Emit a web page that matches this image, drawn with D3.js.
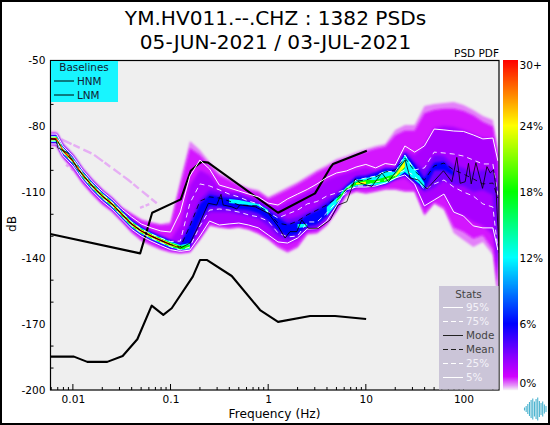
<!DOCTYPE html>
<html><head><meta charset="utf-8">
<script src="https://cdn.jsdelivr.net/npm/d3@7"></script>
<style>html,body{margin:0;padding:0;background:#fff}svg{display:block}text{font-family:"DejaVu Sans",sans-serif}</style>
</head><body><div id="chart"></div>
<script>
const titleLines=["YM.HV011.--.CHZ : 1382 PSDs","05-JUN-2021 / 03-JUL-2021"];
const xTickLabels=[0.01,0.1,1,10,100];
const yTickLabels=[-50,-80,-110,-140,-170,-200];
const cbarTicks=[[30,"30+"],[24,"24%"],[18,"18%"],[12,"12%"],[6,"6%"],[0,"0%"]];
const pdfStops=[0,0.35,1.2,3,6,12,18,24,30];
const pdfColors=["#f4ecf6","#e79cf8","#d000ff","#8a00ff","#0000ff","#00ffff","#00ff00","#ffff00","#ff0000"];

const freqHz=[0.0059,0.0068,0.0079,0.01,0.0126,0.0158,0.02,0.0251,0.0316,0.0398,0.0501,0.0631,0.0794,0.1,0.126,0.158,0.2,0.251,0.316,0.398,0.501,0.631,0.794,1,1.26,1.58,2,2.51,3.16,3.98,5.01,6.31,7.94,10,12.6,15.8,20,25.1,31.6,39.8,50.1,63.1,79.4,100,126,158,200,225];

const p95=[-83.5,-83.5,-88.8,-93.5,-99.9,-104.9,-109.5,-113.1,-117.6,-121.2,-124.4,-126.2,-127.6,-128.1,-119,-102.6,-95.3,-99.4,-106.7,-108,-109.4,-110.8,-112.1,-114.9,-115.8,-113,-110.8,-108.7,-106.2,-103.3,-101.2,-100.3,-98.5,-97.3,-98.9,-96.9,-97.6,-88.9,-91.7,-88.9,-81.2,-81.6,-82.1,-82.3,-83.9,-85.7,-85.3,-95.7];
const p75=[-84.8,-84.8,-89.8,-94.8,-101.2,-106.2,-110.8,-114.4,-119,-123.5,-126.7,-129,-130.8,-132.4,-132.2,-114.9,-106.2,-107.1,-108.9,-110.8,-112.1,-114,-115.3,-119,-121.7,-119.9,-118.1,-115.3,-114.2,-111.7,-110.3,-108.5,-104.4,-103.5,-102.6,-100.3,-100.8,-93,-99.8,-98.9,-91.7,-92.1,-92.6,-93.5,-95.3,-97.1,-97.1,-111.2];
const mean=[-85.7,-85.7,-91,-95.7,-102.1,-107.1,-111.7,-115.3,-119.9,-124.4,-127.6,-129.9,-131.9,-133.8,-134.9,-125.3,-114,-112.1,-112.6,-114,-115.8,-116,-116.2,-119,-124,-124.9,-123.1,-120.3,-118.1,-115.8,-112.6,-108.9,-104.9,-104.4,-103,-100.8,-99.8,-94.4,-100.3,-104.4,-98,-96.7,-99.8,-101.7,-103.9,-106.2,-105.8,-112.6];
const p25=[-86.6,-86.6,-91.9,-96.7,-103,-108,-112.6,-116.2,-120.8,-125.3,-128.5,-130.8,-132.8,-134.7,-136.3,-134.9,-125.3,-118.1,-117.6,-118.1,-119,-120.3,-121.2,-123.1,-128.5,-130.3,-129.9,-123.5,-123.5,-119.4,-114.4,-110.3,-107.1,-107.1,-105.3,-104.4,-102.1,-99.8,-102.6,-108.9,-106.2,-104.4,-107.6,-109.9,-111.7,-115.3,-116.7,-136.3];
const p5=[-88,-88,-93.3,-98,-104.4,-109.4,-114,-117.6,-122.2,-126.7,-129.9,-132.2,-134.2,-136.1,-136.9,-136.3,-129.9,-123.1,-124.9,-124.4,-124,-124.9,-126.2,-129.4,-132.6,-133.1,-130.8,-126.7,-126.5,-123.1,-116.2,-108.9,-107.6,-107.6,-107.1,-105.8,-103.5,-102.1,-106.2,-116.2,-113.5,-110.8,-119,-120.8,-125.3,-126.2,-126.2,-136.3];

const modeLogHz=[-2.225,-2.173,-2.153,-2.1,-2.05,-2,-1.961,-1.9,-1.8,-1.7,-1.6,-1.5,-1.4,-1.3,-1.2,-1.1,-1,-.9,-.8,-.718,-.613,-.527,-.483,-.461,-.373,-.322,-.288,-.134,.002,.105,.173,.224,.293,.344,.412,.514,.634,.716,.805,.89,.942,1.061,1.164,1.232,1.334,1.403,1.454,1.539,1.625,1.693,1.795,1.881,1.932,1.966,2.017,2.051,2.079,2.127,2.195,2.24,2.274,2.307,2.332,2.352,2.366];
const modeDb=[-85.7,-86,-89.8,-91,-92.1,-95.7,-98.9,-102.1,-107.1,-111.7,-115.3,-119.9,-124.4,-127.6,-129.9,-131.9,-133.8,-135.4,-133.1,-125.7,-115,-115.8,-110.9,-115.8,-116.6,-117.6,-115.8,-116.6,-119.6,-125.7,-130.8,-127.9,-127.9,-122.6,-126.4,-126.4,-122.6,-115.8,-114.3,-103.9,-105.8,-107.4,-101.2,-105.2,-99.1,-95.3,-103.5,-104.4,-108.5,-105.2,-100.2,-105.2,-94.1,-105.9,-105.2,-96.8,-106.2,-96.5,-108.2,-98.3,-101.2,-99.8,-107.4,-125.7,-137.6];

const hnmLogHz=[-2.231,-1.311,-1.188,-.895,-.793,-.704,-.68,-.615,.101,.48,.634,.665,1.01];
const hnmDb=[-129,-137.8,-119.3,-113.2,-100.2,-96.8,-96.1,-96.5,-119.3,-110.5,-98.9,-97.1,-91.1];
const lnmLogHz=[-2.231,-1.989,-1.852,-1.648,-1.49,-1.34,-1.193,-1.074,-.988,-.772,-.698,-.629,-.373,-.083,.101,.429,.685,1.003];
const lnmDb=[-184.8,-184.8,-187.2,-187.2,-184.5,-176.9,-161.6,-165.8,-162.8,-148.4,-140.8,-140.8,-148.1,-163.6,-169,-166.3,-166.3,-167.7];

const ghostHz=[0.00767,0.0162,0.037,0.0723];
const ghostDb=[-85.9,-92.7,-104.4,-115];
const ghost2Hz=[0.0487,0.0616];
const ghost2Db=[-117.1,-115.3];
const ghost3Hz=[0.0085,0.0105];
const ghost3Db=[-97.5,-100.5];

const n=null;
const envHi=[-82.4,-82.4,-87.7,-92.4,-98.8,-103.8,-108.4,-112,-116.6,-119.4,-122.2,-123.5,-124.4,-123.5,-104.4,-86.6,-90.7,-96.2,-101.2,-103.5,-106.2,-108,-108.9,-112.1,-109.9,-107.6,-105.3,-102.6,-99.8,-97.6,-94.8,-93.5,-91.7,-90.3,-88.9,-88,-81.6,-79.4,-79.4,-70.7,-69.8,-69.3,-68.9,-70.3,-72.5,-75.3,-77.1,-90.7];
const envLo=[-88.9,-88.9,-94.4,-99.8,-106.2,-111.2,-115.8,-119,-123.5,-128.5,-132.2,-134.4,-136.3,-137.6,-138.1,-137.6,-131.7,-125.3,-126.2,-126.7,-126.2,-127.2,-129,-131.7,-135.4,-137.6,-135.4,-129.4,-129,-125.3,-119,-111.7,-109.9,-110.8,-109.9,-108.9,-108.9,-109.9,-109.9,-120.8,-115.3,-118.1,-128.5,-131.7,-134.9,-132.6,-138.5,-156.8];
const magentaHi=[-83.3,-83.3,-88.6,-93.3,-99.7,-104.7,-109.3,-112.9,-117.3,-120,-122.8,-124.1,-125,-124.5,-107,-90,-93,-98,-102.5,-104.5,-107,-109,-110,-113,-111,-108.8,-106.5,-103.8,-101,-98.8,-96,-94.7,-93,-91.5,-90.2,-89.3,-84,-82,-82,-74,-72.5,-72,-72,-73,-75,-78,-80,-93];
const magentaLo=[-88.3,-88.3,-93.8,-99.2,-105.6,-110.6,-115.2,-118.4,-122.9,-127.9,-131.6,-133.8,-135.7,-137,-137.5,-137,-131,-124.8,-125.7,-126.2,-125.7,-126.7,-128.5,-131,-134.6,-136.8,-134.6,-128.6,-128.2,-124.6,-118.4,-111.2,-109.4,-110.2,-109.4,-108.4,-108.4,-109.3,-109.3,-120,-114.6,-117,-126,-128,-131,-129.5,-136,-156];
const violetHi=[-83.5,-83.5,-88.8,-93.5,-99.9,-104.9,-109.5,-113.1,-117.7,-122.2,-125.4,-127.7,-129.7,-131.6,-124.9,-106.7,-99.8,-102.1,-107.6,-108.9,-109.9,-111.7,-112.6,-115.8,-116.7,-114.4,-112.1,-109.9,-107.6,-104.4,-102.6,-101.2,-99.8,-98.9,-99.8,-98,-98.5,-90.7,-93,-88.5,-80.7,-79.8,-80.3,-81.6,-83.5,-85.3,-85.3,-97.6];
const violetLo=[-87.9,-87.9,-93.2,-97.9,-104.3,-109.3,-113.9,-117.5,-122.1,-126.6,-129.8,-132.1,-134.1,-136,-136.7,-136.3,-130.3,-123.5,-124.9,-125.3,-124.9,-125.3,-126.7,-129.9,-132.6,-133.5,-131.7,-127.6,-127.2,-123.5,-117.1,-109.9,-108,-108,-107.6,-106.7,-104.4,-103.5,-107.1,-117.1,-113.5,-111.2,-119,-120.8,-123.5,-125.3,-129.4,-145.4];
const indigoHi=[-83.75,-83.75,-89.05,-93.75,-100.15,-105.15,-109.75,-113.35,-117.95,-122.45,-125.65,-127.95,-129.95,-131.85,-133.1,-123.5,-113.5,-108.9,-109.9,-110.8,-110.8,-112.6,-114,-116.7,-119.9,-122.2,-121.2,-119,-116.7,-113,-110.3,-106.7,-102.6,-102.1,-100.8,-98.9,-98.9,-91.7,-96.2,-99.8,-93,-93.5,-97.6,-98.9,-100.8,-99.8,-99.8,-106.7];
const indigoLo=[-87.65,-87.65,-92.95,-97.65,-104.05,-109.05,-113.65,-117.25,-121.85,-126.35,-129.55,-131.85,-133.85,-135.75,-136.3,-135.4,-125.3,-119,-119,-119,-119.9,-120.8,-122.2,-125.3,-129.9,-131.7,-130.8,-126.7,-126.2,-122.2,-116.2,-109.4,-107.6,-107.1,-107.1,-106.2,-103.9,-102.1,-105.3,-109.9,-108,-104.4,-106.7,-107.1,-109.9,-108.9,-111.2,-150];
const blueHi=[-84,-84,-89.3,-94,-100.4,-105.4,-110,-113.6,-118.2,-122.7,-125.9,-128.2,-130.2,-132.1,-133.5,-125.3,-115.2,-111.1,-112,-112.5,-112.9,-114.3,-115.7,-118.4,-121.6,-124.3,-123.4,-120.2,-118.4,-115.2,-111.7,-107.1,-103,-102.6,-101.2,-99.4,-99.4,-92.1,-97.1,-103.5,-96.5,-96,-100.8,n,n,n,n,-113.5];
const blueLo=[-87.4,-87.4,-92.7,-97.4,-103.8,-108.8,-113.4,-117,-121.6,-126.1,-129.3,-131.6,-133.6,-135.5,-136.3,-134.4,-122.7,-116.3,-116.3,-117.3,-117.7,-118.2,-119.5,-122.7,-127.3,-130,-129.1,-125.4,-124.5,-120.9,-115.8,-109.4,-107.6,-107.1,-107.1,-106.2,-103.9,-102.1,-105.3,-108.9,-100,-100,-102.6,n,n,n,n,-129.4];
const cyanHi=[-84.35,-84.35,-89.65,-94.35,-100.75,-105.75,-110.35,-113.95,-118.55,-123.05,-126.25,-128.55,-130.55,-132.45,-134,-133.1,n,n,n,-113,-113.5,-114.4,-115.3,-118.1,n,n,-124.4,-124.4,n,-116.7,-112.6,-107.6,-104.4,-103.5,-102.6,-100.3,-100.8,-93,-98.9,-105.8,n,n,n,n,n,n,n,n];
const cyanLo=[-87.05,-87.05,-92.35,-97.05,-103.45,-108.45,-113.05,-116.65,-121.25,-125.75,-128.95,-131.25,-133.25,-135.15,-136.3,-135.9,n,n,n,-114.9,-115.3,-115.8,-116.2,-119.4,n,n,-126.2,-125.7,n,-120.8,-115.3,-108.9,-107.1,-106.7,-106.7,-106.2,-103.9,-100.8,-104.4,-108,n,n,n,n,n,n,n,n];
const greenHi=[-84.7,-84.7,-90,-94.7,-101.1,-106.1,-110.7,-114.3,-118.9,-123.4,-126.6,-128.9,-130.9,-132.8,-134.4,-134,n,n,n,n,n,n,n,n,n,n,n,n,n,n,-113.5,-108,-105.3,-104.4,-104.4,-103,-101.7,-95.5,n,n,n,n,n,n,n,n,n,n];
const greenLo=[-86.7,-86.7,-92,-96.7,-103.1,-108.1,-112.7,-116.3,-120.9,-125.4,-128.6,-130.9,-132.9,-134.8,-135.9,-135.4,n,n,n,n,n,n,n,n,n,n,n,n,n,n,-114.9,-108.7,-106.7,-106.2,-105.8,-105.2,-103.5,-99,n,n,n,n,n,n,n,n,n,n];
const yellowHi=[-85.05,-85.05,-90.35,-95.05,-101.45,-106.45,-111.05,-114.65,-119.25,-123.75,-126.95,-129.25,-131.25,-133.15,-134.8,n,n,n,n,n,n,n,n,n,n,n,n,n,n,n,n,n,-105.8,-105.1,n,n,-102.1,-95.7,n,n,n,n,n,n,n,n,n,n];
const yellowLo=[-86.35,-86.35,-91.65,-96.35,-102.75,-107.75,-112.35,-115.95,-120.55,-125.05,-128.25,-130.55,-132.55,-134.45,-135.5,n,n,n,n,n,n,n,n,n,n,n,n,n,n,n,n,n,-106.5,-106.2,n,n,-103,-98.5,n,n,n,n,n,n,n,n,n,n];
const redHi=[-85.32,-85.32,-90.62,-95.32,-101.72,-106.72,-111.32,-114.92,-119.52,-124.02,-127.22,-129.52,-131.52,-133.42];
const redLo=[-86.08,-86.08,-91.38,-96.08,-102.48,-107.48,-112.08,-115.68,-120.28,-124.78,-127.98,-130.28,-132.28,-134.18];

const baselineLabels=["HNM","LNM"];
const statLabels=["95%","75%","Mode","Mean","25%","5%"];
const logoHeights=[3,6,10,14,18,21,15,20,23,16,12,15,9,6];

const W=550,H=425,L=50.5,R=499,T=60.5,B=390;
const svg=d3.select("#chart").append("svg").attr("width",W).attr("height",H);
svg.append("rect").attr("width",W).attr("height",H).attr("fill","#fff");
const x=d3.scaleLog().domain([0.0059,231]).range([L,R]);
const y=d3.scaleLinear().domain([-50,-200]).range([T,B]);
const hz=v=>Math.pow(10,v);
const defs=svg.append("defs");
defs.append("clipPath").attr("id","plot").append("rect").attr("x",L).attr("y",T).attr("width",R-L).attr("height",B-T);
[["b3",1.6],["b2",1.1],["b1",0.5]].forEach(([id,s])=>{
  defs.append("filter").attr("id",id).attr("x","-5%").attr("y","-5%").attr("width","110%").attr("height","110%")
   .append("feGaussianBlur").attr("stdDeviation",s);
});

titleLines.forEach((t,i)=>svg.append("text").attr("x",275.5).attr("y",25+i*24).attr("text-anchor","middle").attr("font-size",20.1).attr("fill","#000").text(t));
svg.append("text").attr("x",499).attr("y",57).attr("text-anchor","end").attr("font-size",10.5).text("PSD PDF");

svg.append("rect").attr("x",L).attr("y",T).attr("width",R-L).attr("height",B-T).attr("fill","#efefef");

const gPlot=svg.append("g").attr("clip-path","url(#plot)");
const band=(hi,lo,color,filter)=>{
  const pts=freqHz.map((f,i)=>({f,hi:hi[i],lo:lo[i]}));
  const a=d3.area().defined(d=>d.hi!=null&&d.lo!=null).x(d=>x(d.f)).y0(d=>y(d.lo)).y1(d=>y(d.hi));
  const p=gPlot.append("path").attr("d",a(pts)).attr("fill",color);
  if(filter)p.attr("filter",`url(#${filter})`);
};
const pdfColor=d3.scaleLinear().domain(pdfStops).range(pdfColors).clamp(true);
const curve=(xs,ys,stroke,width,dash)=>{
  const line=d3.line().x(d=>x(d[0])).y(d=>y(d[1]));
  const p=gPlot.append("path").attr("d",line(xs.map((v,i)=>[v,ys[i]]))).attr("fill","none")
    .attr("stroke",stroke).attr("stroke-width",width).attr("stroke-linejoin","round");
  if(dash)p.attr("stroke-dasharray",dash);
  return p;
};

curve(ghostHz,ghostDb,"#e6aef4",2.4,"11 2 7 4 9 3");
curve(ghost2Hz,ghost2Db,"#e6aef4",2.4,"4 2");
curve(ghost3Hz,ghost3Db,"#e6aef4",2.4,"3 3");

band(envHi,envLo,pdfColor(0.5),"b2");
band(magentaHi,magentaLo,pdfColor(1.1),"b2");
band(violetHi,violetLo,pdfColor(2.2),"b3");
band(indigoHi,indigoLo,pdfColor(3.6),"b3");
band(blueHi,blueLo,pdfColor(6),"b2");
band(cyanHi,cyanLo,pdfColor(12),"b1");
band(greenHi,greenLo,pdfColor(18),"b1");
band(yellowHi,yellowLo,pdfColor(24));
band(redHi,redLo,pdfColor(30));

curve(hnmLogHz.map(hz),hnmDb,"#000",2.1);
curve(lnmLogHz.map(hz),lnmDb,"#000",2.1);

curve(freqHz,p95,"#fff",1);
curve(freqHz,p5,"#fff",1);
curve(freqHz,p75,"#fff",0.9,"5 4");
curve(freqHz,p25,"#fff",0.9,"5 4");
curve(modeLogHz.map(hz),modeDb,"#000",0.8);
curve(freqHz,mean,"#000",0.8,"5 4");

svg.append("rect").attr("x",L).attr("y",T).attr("width",R-L).attr("height",B-T).attr("fill","none").attr("stroke","#000").attr("stroke-width",1.2);

const yAxis=d3.axisLeft(y).tickValues(yTickLabels).tickSize(0).tickPadding(5).tickFormat(d=>d);
const gy=svg.append("g").attr("transform",`translate(${L},0)`).call(yAxis);
gy.select(".domain").remove();
gy.selectAll("text").attr("font-size",10.6).attr("fill","#000").style("font-family",'"DejaVu Sans",sans-serif');
const yMinor=d3.range(-190,-50,10).filter(v=>!yTickLabels.includes(v));
svg.append("g").selectAll("line").data(yMinor).join("line").attr("x1",L).attr("x2",L+3).attr("y1",y).attr("y2",y).attr("stroke","#000").attr("stroke-width",1);

const xMinor=[];
[0.001,0.01,0.1,1,10,100].forEach(d=>d3.range(2,10).forEach(m=>{const v=d*m;if(v>0.0059&&v<231)xMinor.push(v);}));
const xAxis=d3.axisBottom(x).tickValues(xTickLabels).tickSize(0).tickPadding(5).tickFormat(d=>d);
const gx=svg.append("g").attr("transform",`translate(0,${B})`).call(xAxis);
gx.select(".domain").remove();
gx.selectAll("text").attr("font-size",10.6).attr("fill","#000").style("font-family",'"DejaVu Sans",sans-serif');
svg.append("g").selectAll("line").data(xMinor).join("line").attr("x1",x).attr("x2",x).attr("y1",B).attr("y2",B-3).attr("stroke","#000");
svg.append("g").selectAll("line").data(xTickLabels).join("line").attr("x1",x).attr("x2",x).attr("y1",B).attr("y2",B-6).attr("stroke","#000");

svg.append("text").attr("x",274.5).attr("y",418).attr("text-anchor","middle").attr("font-size",12.2).text("Frequency (Hz)");
svg.append("text").attr("transform","translate(16,224) rotate(-90)").attr("text-anchor","middle").attr("font-size",12.2).text("dB");

svg.append("rect").attr("x",51).attr("y",61).attr("width",67).attr("height",41).attr("fill","#18f5ff");
svg.append("text").attr("x",84).attr("y",71).attr("text-anchor","middle").attr("font-size",10.4).attr("fill","#123").text("Baselines");
baselineLabels.forEach((t,i)=>{
  const yy=81+i*14;
  svg.append("line").attr("x1",54).attr("x2",74).attr("y1",yy).attr("y2",yy).attr("stroke","#000");
  svg.append("text").attr("x",77).attr("y",yy+3.8).attr("font-size",10.4).attr("fill","#123").text(t);
});

svg.append("rect").attr("x",439).attr("y",286).attr("width",59.5).attr("height",103.5).attr("fill","#cbc5d8");
svg.append("text").attr("x",468.5).attr("y",298).attr("text-anchor","middle").attr("font-size",10.4).attr("fill","#444").text("Stats");
statLabels.forEach((t,i)=>{
  const yy=307.5+i*14;
  const dark=t==="Mode"||t==="Mean";
  const dashed=i===1||i===3||i===4;
  const l=svg.append("line").attr("x1",443).attr("x2",463).attr("y1",yy).attr("y2",yy).attr("stroke",dark?"#222":"#fff");
  if(dashed)l.attr("stroke-dasharray","5 3");
  svg.append("text").attr("x",466).attr("y",yy+3.8).attr("font-size",10.4).attr("fill",dark?"#444":"#f4f2f8").text(t);
});

const cy=d3.scaleLinear().domain([0,30]).range([390,60]);
const cvals=d3.range(0,30,30/330);
svg.append("g").selectAll("rect").data(cvals).join("rect").attr("x",503).attr("width",15).attr("y",d=>cy(d)-1).attr("height",1.2).attr("fill",d=>pdfColor(d));
cbarTicks.forEach(([v,t])=>{
  const yy=v===30?65:(v===0?383:cy(v));
  svg.append("text").attr("x",519.5).attr("y",yy+3.8).attr("font-size",10.6).attr("fill","#000").text(t);
});

const lx=d3.scaleLinear().domain([0,logoHeights.length-1]).range([524.5,546]);
svg.append("g").selectAll("line").data(logoHeights).join("line")
 .attr("x1",(d,i)=>lx(i)).attr("x2",(d,i)=>lx(i)).attr("y1",d=>409-d/2).attr("y2",d=>409+d/2)
 .attr("stroke","#4bb3cf").attr("stroke-width",1.1);

svg.append("rect").attr("x",1).attr("y",1).attr("width",W-2).attr("height",H-2).attr("fill","none").attr("stroke","#000").attr("stroke-width",2);
</script></body></html>
